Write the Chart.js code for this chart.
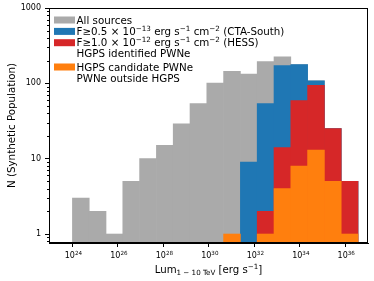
<!DOCTYPE html>
<html>
<head>
<meta charset="utf-8">
<script src="https://cdn.jsdelivr.net/npm/chart.js@4.4.0/dist/chart.umd.min.js"></script>
<style>
  html, body { margin: 0; padding: 0; background: #fff; }
  canvas { display: block; }
</style>
</head>
<body>
<canvas id="lumChart" width="374" height="281"></canvas>
<script>
// log10(Lum / erg s^-1) at the histogram bin edges
const binEdges = [24.000, 24.739, 25.478, 26.216, 26.955, 27.694, 28.433, 29.172, 29.911,
  30.649, 31.388, 32.127, 32.866, 33.605, 34.344, 35.082, 35.821, 36.560];

const allSources = [3, 2, 1, 5, 10, 15, 29, 54, 101, 144, 133, 194, 224, 177, 108, 25, 5];
const ctaSouth = [null, null, null, null, null, null, null, null, null, null, 9, 54, 172, 177, 108, 25, 5];
const hess = [null, null, null, null, null, null, null, null, null, null, null, 2, 14, 59, 94, 25, 5];
const hgpsPwne = [null, null, null, null, null, null, null, null, null, 1, null, 1, 4, 8, 13, 5, 1];

const xTickExps = [24, 26, 28, 30, 32, 34, 36];
const yTicks = [1, 10, 100, 1000];
const yMinorTicks = [0.8, 0.9, 2, 3, 4, 5, 6, 7, 8, 9, 20, 30, 40, 50, 60, 70, 80, 90, 200, 300, 400, 500, 600, 700, 800, 900];

const COLORS = {
  gray: '#aaaaaa',
  blue: '#1f77b4',
  red: '#d62728',
  orange: '#ff7f0e',
};

// legend rows: [colour or null, rich text segments]
const legendRows = [
  [COLORS.gray, [['All sources']]],
  [COLORS.blue, [['F≥0.5 × 10'], ['−13', 'sup'], [' erg s'], ['−1', 'sup'], [' cm'], ['−2', 'sup'], [' (CTA-South)']]],
  [COLORS.red, [['F≥1.0 × 10'], ['−12', 'sup'], [' erg s'], ['−1', 'sup'], [' cm'], ['−2', 'sup'], [' (HESS)']]],
  [null, [['HGPS identified PWNe']]],
  [COLORS.orange, [['HGPS candidate PWNe']]],
  [null, [['PWNe outside HGPS']]],
];

const xTitle = [['Lum'], ['1 − 10 TeV', 'sub'], [' [erg s'], ['−1', 'sup'], [']']];
const yTitle = 'N (Synthetic Population)';

const FONT = '"DejaVu Sans", sans-serif';

const centers = [];
for (let i = 0; i < binEdges.length - 1; i++) {
  centers.push(Math.pow(10, (binEdges[i] + binEdges[i + 1]) / 2));
}
const toPoints = (vals) => vals.map((v, i) => ({ x: centers[i], y: v }));

function segFont(kind, size) {
  return (kind ? size * 0.7 : size) + 'px ' + FONT;
}

function richWidth(ctx, segs, size) {
  let w = 0;
  segs.forEach(([t, k]) => {
    ctx.font = segFont(k, size);
    w += ctx.measureText(t).width;
  });
  return w;
}

function drawRich(ctx, segs, x, y, size, align) {
  const w = richWidth(ctx, segs, size);
  let cx = align === 'center' ? x - w / 2 : align === 'right' ? x - w : x;
  ctx.textAlign = 'left';
  ctx.textBaseline = 'alphabetic';
  segs.forEach(([t, k]) => {
    ctx.font = segFont(k, size);
    const dy = k === 'sup' ? -size * 0.42 : k === 'sub' ? size * 0.22 : 0;
    ctx.fillText(t, cx, y + dy);
    cx += ctx.measureText(t).width;
  });
}

const decorations = {
  id: 'decorations',
  afterDraw(chart) {
    const { ctx, chartArea: a, scales: { x, y } } = chart;
    ctx.save();
    ctx.strokeStyle = '#000';
    ctx.fillStyle = '#000';
    ctx.lineWidth = 1;

    // frame
    ctx.strokeRect(Math.round(a.left) + 0.5, Math.round(a.top) + 0.5,
      Math.round(a.right - a.left) - 1, Math.round(a.bottom - a.top) - 1);

    // minor y ticks
    ctx.beginPath();
    yMinorTicks.forEach((v) => {
      const py = Math.round(y.getPixelForValue(v)) + 0.5;
      ctx.moveTo(a.left - 2, py);
      ctx.lineTo(a.left, py);
    });
    ctx.stroke();

    // x tick labels
    xTickExps.forEach((e) => {
      const px = x.getPixelForValue(Math.pow(10, e));
      drawRich(ctx, [['10'], [String(e), 'sup']], px + 1, a.bottom + 15, 8, 'center');
    });

    // y tick labels
    ctx.font = '8px ' + FONT;
    ctx.textAlign = 'right';
    ctx.textBaseline = 'middle';
    yTicks.forEach((v) => {
      ctx.fillText(String(v), a.left - 8, y.getPixelForValue(v));
    });

    // axis titles
    drawRich(ctx, xTitle, (a.left + a.right) / 2, a.bottom + 30, 10.2, 'center');
    ctx.save();
    ctx.translate(12.5, (a.top + a.bottom) / 2);
    ctx.rotate(-Math.PI / 2);
    ctx.font = '10.3px ' + FONT;
    ctx.textAlign = 'center';
    ctx.textBaseline = 'middle';
    ctx.fillText(yTitle, 0, 0);
    ctx.restore();

    // legend
    const rowY = [20, 31.4, 42.7, 53.3, 67, 78];
    legendRows.forEach(([color, segs], i) => {
      const cy = rowY[i];
      if (color) {
        ctx.fillStyle = color;
        ctx.fillRect(a.left + 5, cy - 3.5, 21, 7);
      }
      ctx.fillStyle = '#000';
      drawRich(ctx, segs, a.left + 27.5, cy + 3.7, 10.3, 'left');
    });
    ctx.restore();
  },
};

const axisLook = () => ({
  offset: false,
  grid: { display: true, offset: false, drawOnChartArea: false, drawTicks: true, tickLength: 4, tickWidth: 1, tickColor: '#000' },
  border: { display: true, color: '#000', width: 1 },
  ticks: { display: false, autoSkip: false },
});

new Chart(document.getElementById('lumChart'), {
  type: 'bar',
  data: {
    datasets: [
      { label: 'All sources', data: toPoints(allSources), backgroundColor: COLORS.gray, order: 4 },
      { label: 'CTA-South', data: toPoints(ctaSouth), backgroundColor: COLORS.blue, order: 3 },
      { label: 'HESS', data: toPoints(hess), backgroundColor: COLORS.red, order: 2 },
      { label: 'HGPS candidate PWNe', data: toPoints(hgpsPwne), backgroundColor: COLORS.orange, order: 1 },
    ],
  },
  options: {
    responsive: false,
    animation: false,
    devicePixelRatio: 1,
    layout: { padding: { top: 8, right: 6, left: 0, bottom: 0 } },
    plugins: { legend: { display: false }, tooltip: { enabled: false } },
    datasets: { bar: { grouped: false, barPercentage: 1, categoryPercentage: 1, borderWidth: 0 } },
    scales: {
      x: {
        type: 'logarithmic',
        min: Math.pow(10, 22.97),
        max: Math.pow(10, 37.0),
        afterBuildTicks: (s) => { s.ticks = xTickExps.map((e) => ({ value: Math.pow(10, e) })); },
        afterFit: (s) => { s.height = 38; },
        ...axisLook(),
      },
      y: {
        type: 'logarithmic',
        min: 0.76,
        max: 1000,
        afterBuildTicks: (s) => { s.ticks = yTicks.map((v) => ({ value: v })); },
        afterFit: (s) => { s.width = 49; },
        ...axisLook(),
      },
    },
  },
  plugins: [decorations],
});
</script>
</body>
</html>
